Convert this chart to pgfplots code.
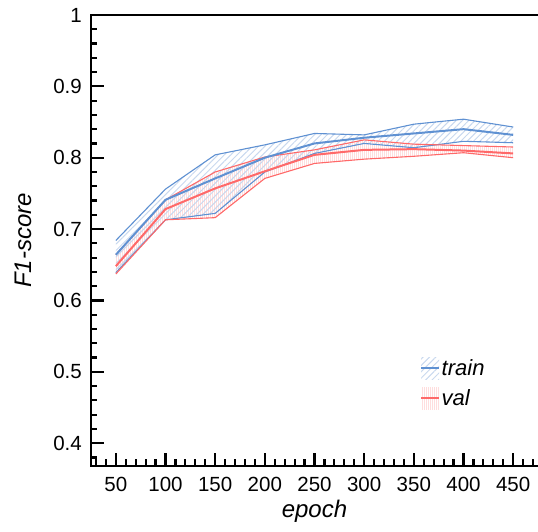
\documentclass[border=0pt]{standalone}
\usepackage{fontspec}
\setmainfont{Liberation Sans}
\usepackage{pgfplots}
\pgfplotsset{compat=1.18}
\usepgfplotslibrary{fillbetween}
\usetikzlibrary{patterns.meta}
\definecolor{tblue}{RGB}{95,145,210}
\definecolor{vred}{RGB}{255,105,105}
\definecolor{hblue}{RGB}{200,216,238}
\definecolor{hred}{RGB}{255,222,222}
\begin{document}
\begin{tikzpicture}
\begin{axis}[
  scale only axis, width=447pt, height=451pt,
  xmin=25, xmax=475, ymin=0.368, ymax=1.0,
  axis x line*=bottom, axis y line*=left,
  axis line style={line width=2.8pt, line cap=rect},
  xtick={50,100,...,450}, minor xtick={30,40,...,470},
  ytick={0.4,0.5,0.6,0.7,0.8,0.9,1.0},
  minor ytick={0.38,0.42,0.44,0.46,0.48,0.52,0.54,0.56,0.58,0.62,0.64,0.66,0.68,0.72,0.74,0.76,0.78,0.82,0.84,0.86,0.88,0.92,0.94,0.96,0.98},
  major tick length=13pt, minor tick length=6.5pt,
  every tick/.style={black, line width=2.2pt},
  tick align=inside,
  tick label style={font=\fontsize{20.5}{20.5}\selectfont, inner sep=0pt},
  /pgf/number format/assume math mode=true,
  yticklabel style={/pgf/number format/fixed, /pgf/number format/precision=1},
  xticklabel shift=11pt, yticklabel shift=9pt,
  xlabel={epoch}, ylabel={F1-score},
  every axis x label/.style={at={(rel axis cs:0.5,0)}, anchor=center, yshift=-45pt, font=\fontsize{24}{24}\selectfont\itshape},
  every axis y label/.style={at={(rel axis cs:0,0.5)}, anchor=center, rotate=90, yshift=68pt, font=\fontsize{24}{24}\selectfont\itshape},
  legend style={at={(rel axis cs:0.736,0.2417)}, anchor=north west, draw=none, fill=none, inner sep=0pt, row sep=8pt, font=\fontsize{22}{22}\selectfont\itshape, nodes={inner sep=1.5pt}},
  legend cell align=left,
]
\coordinate (SW) at (rel axis cs:0,0);
\coordinate (NE) at (rel axis cs:1,1);
% train bounds
\addplot[name path=tu, tblue, line width=1.1pt, forget plot] coordinates {(50,0.684) (100,0.756) (150,0.804) (200,0.818) (250,0.834) (300,0.832) (350,0.847) (400,0.854) (450,0.843)};
\addplot[name path=tl, tblue, line width=1.1pt, forget plot] coordinates {(50,0.639) (100,0.713) (150,0.722) (200,0.780) (250,0.806) (300,0.820) (350,0.814) (400,0.823) (450,0.821)};
% val bounds
\addplot[name path=vu, vred, line width=1.1pt, forget plot] coordinates {(50,0.664) (100,0.741) (150,0.780) (200,0.801) (250,0.811) (300,0.825) (350,0.819) (400,0.817) (450,0.815)};
\addplot[name path=vl, vred, line width=1.1pt, forget plot] coordinates {(50,0.637) (100,0.713) (150,0.716) (200,0.771) (250,0.792) (300,0.798) (350,0.802) (400,0.807) (450,0.800)};
\addplot[draw=none, pattern={Lines[angle=90,distance=2pt,line width=0.6pt]}, pattern color=hred, forget plot] fill between[of=vu and vl];
\addplot[draw=none, pattern={Lines[angle=45,distance=4.5pt,line width=1pt]}, pattern color=hblue, forget plot] fill between[of=tu and tl];
% means
\addplot[tblue, line width=2pt, forget plot] coordinates {(50,0.664) (100,0.741) (150,0.771) (200,0.800) (250,0.820) (300,0.828) (350,0.834) (400,0.840) (450,0.832)};
\addplot[vred, line width=2pt, forget plot] coordinates {(50,0.648) (100,0.728) (150,0.757) (200,0.781) (250,0.804) (300,0.811) (350,0.812) (400,0.810) (450,0.806)};
\draw[black, line width=1.4pt] (rel axis cs:0,1) -- (rel axis cs:1,1);
\addlegendimage{draw=none, mark=none, legend image code/.code={\path[draw=none, pattern={Lines[angle=45,distance=4.5pt,line width=1pt]},pattern color=hblue] (0pt,-11pt) rectangle (18pt,11pt); \draw[tblue,line width=2pt] (0pt,0pt)--(18pt,0pt);}}
\addlegendentry{train}
\addlegendimage{draw=none, mark=none, legend image code/.code={\path[draw=none, pattern={Lines[angle=90,distance=2pt,line width=0.6pt]},pattern color=hred] (0pt,-11pt) rectangle (18pt,11pt); \draw[vred,line width=2pt] (0pt,0pt)--(18pt,0pt);}}
\addlegendentry{val}
\end{axis}
\pgfresetboundingbox
\path ([shift={(-91pt,-66pt)}]SW) rectangle ([shift={(0pt,15pt)}]NE);
\end{tikzpicture}
\end{document}
